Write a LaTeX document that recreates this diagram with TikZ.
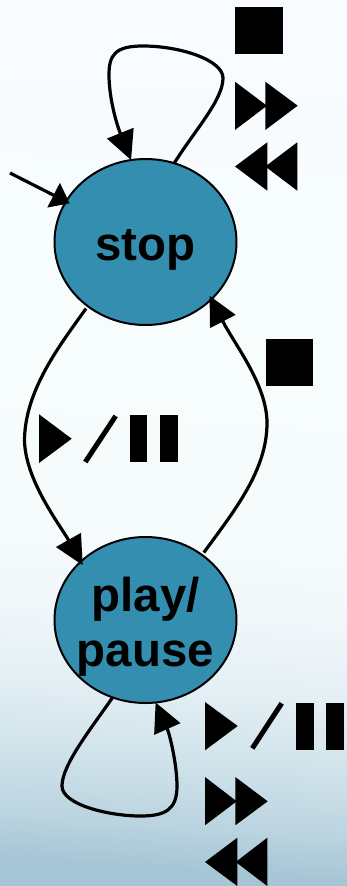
\documentclass[tikz,border=0pt]{standalone}
\usepackage{fontspec}
\setmainfont{Liberation Sans}
\usetikzlibrary{arrows.meta,shapes.geometric}
\definecolor{statefill}{HTML}{348EB0}
\definecolor{bgA}{HTML}{A6C6D6}
\definecolor{bgB}{HTML}{BBD4E0}
\definecolor{bgC}{HTML}{CEE1E9}
\definecolor{bgD}{HTML}{E3EFF4}
\definecolor{bgE}{HTML}{F1F7FA}
\definecolor{bgF}{HTML}{F6FBFC}
\definecolor{bgG}{HTML}{F7FCFD}
\definecolor{bgH}{HTML}{F8FBFF}
\pgfdeclareverticalshading{bgshade}{100bp}{
  color(0bp)=(bgA); color(25bp)=(bgA); color(27.6bp)=(bgB); color(31bp)=(bgC); color(35.5bp)=(bgD); color(40bp)=(bgE); color(44.5bp)=(bgF); color(58bp)=(bgG); color(75bp)=(bgH); color(100bp)=(bgH)}
\tikzset{
  state/.style={ellipse,draw=black,line width=2pt,fill=statefill,minimum width=182pt,minimum height=166pt,inner sep=0pt,outer sep=0pt,font=\fontsize{47.5}{55}\selectfont\bfseries},
  conn/.style={draw=black,line width=3.2pt,-{Triangle[length=29pt,width=28pt]}},
  initconn/.style={draw=black,line width=3.2pt,-{Triangle[length=18pt,width=27pt]}},
  glyph/.style={fill=black,draw=none},
  slash/.style={draw=black,line width=5pt}
}
\begin{document}
\begin{tikzpicture}[x=1pt,y=-1pt]
\useasboundingbox (0,0) rectangle (347,886);
\shade[shading=bgshade,shading angle=-4] (0,0) rectangle (347,886);
\node[state] (stop) at (145.5,242) {\raisebox{-18pt}[0pt][0pt]{\makebox[0pt]{stop}}};
\node[state] (play) at (145.5,620) {\raisebox{9pt}[0pt][0pt]{\makebox[0pt]{\begin{tabular}[t]{@{}c@{}}play/\\pause\end{tabular}}}};
\coordinate (init) at (10,173);
% connectors
\draw[initconn,shorten >=-4pt] (init) -- (stop.153);
\draw[conn] (stop.70) .. controls (195,130) and (223,100) .. (223,78) .. controls (223,60) and (180,46) .. (143,46) .. controls (115,46) and (109,55) .. (109,75) .. controls (109,95) and (115,120) .. (stop.100);
\draw[conn,shorten <=3pt,shorten >=-4pt] (stop.228) .. controls (60,345) and (25,390) .. (24.5,440) .. controls (25,480) and (60,525) .. (play.138);
\draw[conn,shorten <=3pt,shorten >=-4pt] (play.49) .. controls (235,510) and (267,470) .. (267,423) .. controls (267,385) and (235,345) .. (stop.-41);
\draw[conn] (play.-113) .. controls (90,730) and (62,765) .. (62,786) .. controls (62,805) and (110,816) .. (140,816) .. controls (165,816) and (177,810) .. (177,786) .. controls (177,765) and (170,735) .. (play.-83);
% top icons
\fill[glyph] (235,6.7) rectangle (282.7,53.7);
\fill[glyph] (235,81.7) -- (267,105.7) -- (235,130) -- cycle;
\fill[glyph] (265.3,81.7) -- (297.7,105.7) -- (265.3,130) -- cycle;
\fill[glyph] (267.3,142.3) -- (235,166.5) -- (267.3,190.7) -- cycle;
\fill[glyph] (297.3,142.3) -- (265.3,166.5) -- (297.3,190.7) -- cycle;
% right stop icon
\fill[glyph] (265.7,339.3) rectangle (313,386.3);
% play/pause middle
\fill[glyph] (39,414.3) -- (71.7,438.7) -- (39,463) -- cycle;
\draw[slash] (85.3,462) -- (115.7,416);
\fill[glyph] (130,415.3) rectangle (147.3,462.3);
\fill[glyph] (160.3,415.3) rectangle (177.7,462.3);
% lower icons
\fill[glyph] (205,702) -- (237.7,726) -- (205,750.3) -- cycle;
\draw[slash] (252.3,748.3) -- (281.7,703.3);
\fill[glyph] (296,702.7) rectangle (313.7,749.7);
\fill[glyph] (326.3,702.7) rectangle (344,749.7);
\fill[glyph] (205,777) -- (236.7,801.3) -- (205,825.3) -- cycle;
\fill[glyph] (235.3,777) -- (267.7,801.3) -- (235.3,825.3) -- cycle;
\fill[glyph] (237.3,837.7) -- (205,862) -- (237.3,886) -- cycle;
\fill[glyph] (267.3,837.7) -- (235.7,862) -- (267.3,886) -- cycle;
\end{tikzpicture}
\end{document}
